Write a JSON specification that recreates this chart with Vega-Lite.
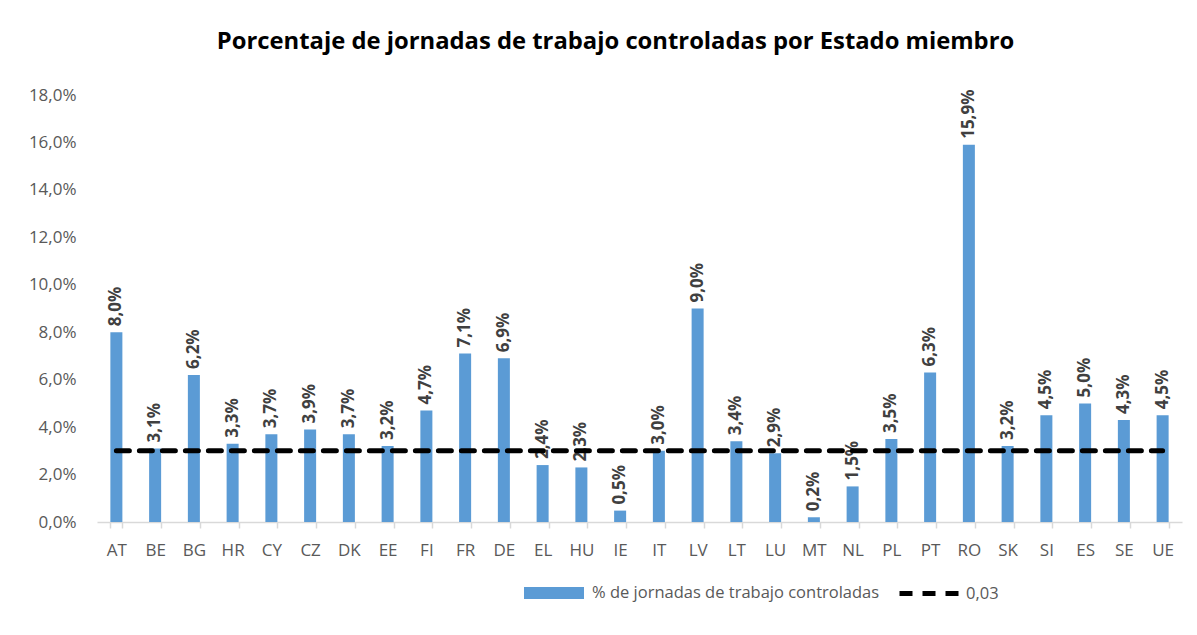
{
  "$schema": "https://vega.github.io/schema/vega-lite/v6.json",
  "width": 1085,
  "height": 427,
  "autosize": {"type": "none"},
  "padding": {"left": 97, "top": 95, "right": 15, "bottom": 113},
  "background": "white",
  "title": {
    "text": "Porcentaje de jornadas de trabajo controladas por Estado miembro",
    "font": "Open Sans",
    "fontSize": 23.8,
    "fontWeight": "bold",
    "color": "#000000",
    "anchor": "middle",
    "dx": -24,
    "offset": 32
  },
  "config": {
    "locale": {"number": {"decimal": ",", "thousands": ".", "grouping": [3], "currency": ["", " €"]}},
    "view": {"stroke": null},
    "font": "Open Sans"
  },
  "data": {
    "values": [
      {"pais": "AT", "valor": 0.080, "ref": 0.03},
      {"pais": "BE", "valor": 0.031, "ref": 0.03},
      {"pais": "BG", "valor": 0.062, "ref": 0.03},
      {"pais": "HR", "valor": 0.033, "ref": 0.03},
      {"pais": "CY", "valor": 0.037, "ref": 0.03},
      {"pais": "CZ", "valor": 0.039, "ref": 0.03},
      {"pais": "DK", "valor": 0.037, "ref": 0.03},
      {"pais": "EE", "valor": 0.032, "ref": 0.03},
      {"pais": "FI", "valor": 0.047, "ref": 0.03},
      {"pais": "FR", "valor": 0.071, "ref": 0.03},
      {"pais": "DE", "valor": 0.069, "ref": 0.03},
      {"pais": "EL", "valor": 0.024, "ref": 0.03},
      {"pais": "HU", "valor": 0.023, "ref": 0.03},
      {"pais": "IE", "valor": 0.0048, "ref": 0.03},
      {"pais": "IT", "valor": 0.030, "ref": 0.03},
      {"pais": "LV", "valor": 0.090, "ref": 0.03},
      {"pais": "LT", "valor": 0.034, "ref": 0.03},
      {"pais": "LU", "valor": 0.029, "ref": 0.03},
      {"pais": "MT", "valor": 0.002, "ref": 0.03},
      {"pais": "NL", "valor": 0.015, "ref": 0.03},
      {"pais": "PL", "valor": 0.035, "ref": 0.03},
      {"pais": "PT", "valor": 0.063, "ref": 0.03},
      {"pais": "RO", "valor": 0.159, "ref": 0.03},
      {"pais": "SK", "valor": 0.032, "ref": 0.03},
      {"pais": "SI", "valor": 0.045, "ref": 0.03},
      {"pais": "ES", "valor": 0.050, "ref": 0.03},
      {"pais": "SE", "valor": 0.043, "ref": 0.03},
      {"pais": "UE", "valor": 0.045, "ref": 0.03}
    ]
  },
  "encoding": {
    "x": {
      "field": "pais",
      "type": "nominal",
      "sort": null,
      "scale": {"paddingInner": 0.69, "paddingOuter": 0.345},
      "axis": {
        "title": null,
        "labelAngle": 0,
        "labelFont": "Open Sans",
        "labelFontSize": 17,
        "labelColor": "#595959",
        "labelPadding": 14,
        "domainColor": "#D9D9D9",
        "domainWidth": 1.5,
        "tickColor": "#D9D9D9",
        "tickWidth": 1.5,
        "tickSize": 6,
        "tickBand": "extent",
        "grid": false
      }
    }
  },
  "layer": [
    {
      "mark": {"type": "bar", "color": "#5B9BD5"},
      "encoding": {
        "y": {
          "field": "valor",
          "type": "quantitative",
          "scale": {"domain": [0, 0.18], "nice": false},
          "axis": {
            "title": null,
            "format": ".1%",
            "values": [0, 0.02, 0.04, 0.06, 0.08, 0.10, 0.12, 0.14, 0.16, 0.18],
            "labelFont": "Open Sans",
            "labelFontSize": 17,
            "labelColor": "#595959",
            "labelPadding": 21,
            "domain": false,
            "ticks": false,
            "grid": false
          }
        },
        "fill": {
          "datum": "% de jornadas de trabajo controladas",
          "scale": {"range": ["#5B9BD5"]},
          "legend": {
            "title": null,
            "orient": "none",
            "legendX": 447,
            "legendY": 488,
            "padding": 0,
            "symbolType": "M-3,-0.6H3V0.6H-3Z",
            "symbolSize": 400,
            "symbolStrokeWidth": 0,
            "labelOffset": 28,
            "labelLimit": 500,
            "labelFont": "Open Sans",
            "labelFontSize": 16.5,
            "labelColor": "#595959"
          }
        }
      }
    },
    {
      "mark": {
        "type": "text",
        "angle": 270,
        "align": "left",
        "baseline": "middle",
        "dx": 6,
        "font": "Open Sans",
        "fontSize": 17,
        "fontWeight": "bold",
        "color": "#404040"
      },
      "encoding": {
        "y": {"field": "valor", "type": "quantitative"},
        "text": {"field": "valor", "type": "quantitative", "format": ".1%"}
      }
    },
    {
      "mark": {
        "type": "line",
        "color": "#000000",
        "strokeWidth": 5,
        "strokeCap": "round",
        "strokeDash": [13, 10]
      },
      "encoding": {
        "y": {"field": "ref", "type": "quantitative"},
        "strokeDash": {
          "datum": "0,03",
          "scale": {"range": [[13, 10]]},
          "legend": {
            "title": null,
            "orient": "none",
            "legendX": 800,
            "legendY": 466,
            "padding": 0,
            "symbolType": "stroke",
            "symbolSize": 3600,
            "symbolStrokeColor": "#000000",
            "symbolStrokeWidth": 5,
            "labelOffset": 4,
            "labelFont": "Open Sans",
            "labelFontSize": 16.5,
            "labelColor": "#595959"
          }
        }
      }
    }
  ]
}
